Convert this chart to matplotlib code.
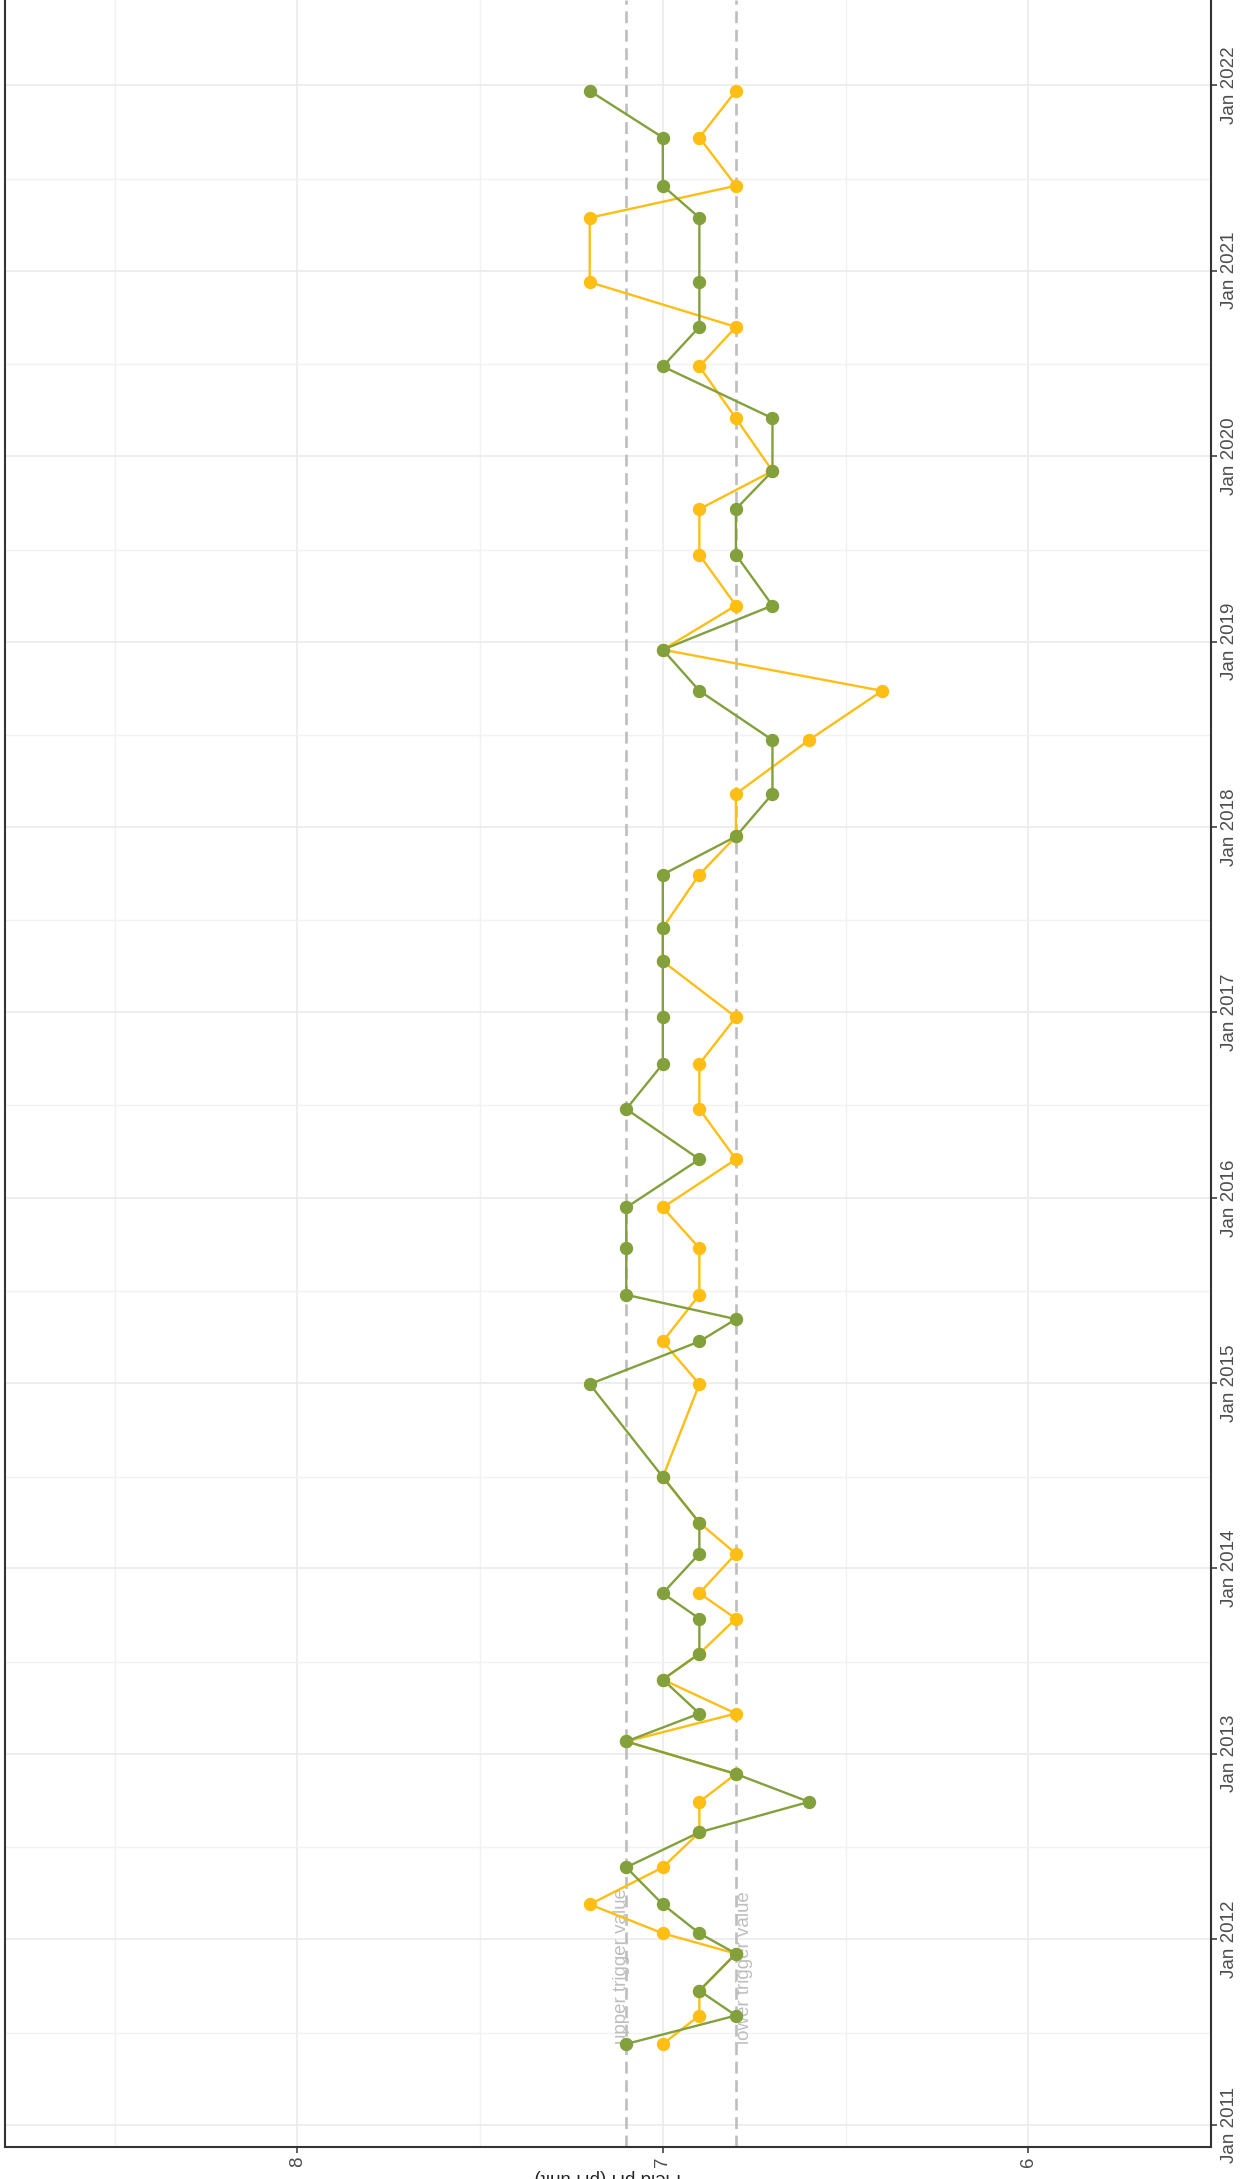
import numpy as np
import matplotlib
matplotlib.use("Agg")
import matplotlib.pyplot as plt
import matplotlib.dates as mdates
import pandas as pd

plt.rcParams['font.family'] = ['Liberation Sans', 'DejaVu Sans']

# sampling dates and field pH readings for the two monitoring sites
dates_site1 = pd.to_datetime([
    "2011-06-09", "2011-08-04", "2011-09-22", "2011-12-04", "2012-01-13", "2012-03-10",
    "2012-05-22", "2012-07-30", "2012-09-28", "2012-11-22", "2013-01-25", "2013-03-21",
    "2013-05-27", "2013-07-17", "2013-09-24", "2013-11-13", "2014-01-30", "2014-04-01",
    "2014-06-30", "2014-12-30", "2015-03-24", "2015-05-07", "2015-06-24", "2015-09-24",
    "2015-12-13", "2016-03-17", "2016-06-24", "2016-09-21", "2016-12-22", "2017-04-11",
    "2017-06-16", "2017-09-29", "2017-12-13", "2018-03-07", "2018-06-21", "2018-09-26",
    "2018-12-16", "2019-03-13", "2019-06-21", "2019-09-19", "2019-12-03", "2020-03-16",
    "2020-06-26", "2020-09-12", "2020-12-09", "2021-04-15", "2021-06-17", "2021-09-20",
    "2021-12-21"])
ph_site1 = [7.1, 6.8, 6.9, 6.8, 6.9, 7.0, 7.1, 6.9, 6.6, 6.8, 7.1, 6.9,
            7.0, 6.9, 6.9, 7.0, 6.9, 6.9, 7.0, 7.2, 6.9, 6.8, 7.1, 7.1,
            7.1, 6.9, 7.1, 7.0, 7.0, 7.0, 7.0, 7.0, 6.8, 6.7, 6.7, 6.9,
            7.0, 6.7, 6.8, 6.8, 6.7, 6.7, 7.0, 6.9, 6.9, 6.9, 7.0, 7.0,
            7.2]

# site 2 was not sampled in May 2015
dates_site2 = dates_site1.drop(pd.Timestamp("2015-05-07"))
ph_site2 = [7.0, 6.9, 6.9, 6.8, 7.0, 7.2, 7.0, 6.9, 6.9, 6.8, 7.1, 6.8,
            7.0, 6.9, 6.8, 6.9, 6.8, 6.9, 7.0, 6.9, 7.0, 6.9, 6.9,
            7.0, 6.8, 6.9, 6.9, 6.8, 7.0, 7.0, 6.9, 6.8, 6.8, 6.6, 6.4,
            7.0, 6.8, 6.9, 6.9, 6.7, 6.8, 6.9, 6.8, 7.2, 7.2, 6.8, 6.9,
            6.8]

upper_trigger = 7.1
lower_trigger = 6.8

green = '#82A03C'
yellow = '#FFBE14'
trig_col = '#BEBEBE'
fs = 13.5

fig = plt.figure(figsize=(12.4, 21.79), dpi=100)
W, H = 1240, 2179
ax = fig.add_axes([5 / W, 32 / H, 1206 / W, 1 - 32 / H])

# chart is laid out sideways: pH runs right-to-left, time runs upwards
ax.set_xlim(8.8, 5.5)
ax.set_ylim(pd.Timestamp("2010-11-18"), pd.Timestamp("2022-06-18"))

ax.set_xticks([6, 7, 8])
ax.set_xticks([5.5, 6.5, 7.5, 8.5], minor=True)
ax.yaxis.set_major_locator(mdates.YearLocator(month=1, day=1))
ax.yaxis.set_minor_locator(mdates.MonthLocator(bymonth=7))
ax.yaxis.set_major_formatter(mdates.DateFormatter('%b %Y'))
ax.yaxis.tick_right()

ax.grid(which='major', color='#EBEBEB', lw=1.2, zorder=0)
ax.grid(which='minor', color='#F2F2F2', lw=1.0, zorder=0)
ax.set_axisbelow(True)

for s in ['left', 'right', 'bottom']:
    ax.spines[s].set_color('#333333')
    ax.spines[s].set_linewidth(1.5)
ax.spines['top'].set_visible(False)

ax.tick_params(axis='both', which='major', length=4, width=1.1, color='#333333',
               labelsize=fs, labelcolor='#4D4D4D', pad=3)
ax.tick_params(axis='both', which='minor', length=0)
ax.tick_params(axis='x', labelrotation=90)
ax.tick_params(axis='y', labelrotation=90, left=False, right=True)
for lab in ax.get_yticklabels():
    lab.set_va('center')

# trigger values
for v in (upper_trigger, lower_trigger):
    ax.axvline(v, color=trig_col, lw=1.9, dashes=(4.5, 2.5), zorder=1)

x0 = mdates.date2num(dates_site1[0])
ax.text(upper_trigger, x0, "upper trigger value", rotation=90, rotation_mode='anchor',
        ha='left', va='baseline', color=trig_col, fontsize=fs, zorder=1.5)
ax.text(lower_trigger, x0, "lower trigger value", rotation=90, rotation_mode='anchor',
        ha='left', va='top', color=trig_col, fontsize=fs, zorder=1.5)

ax.plot(ph_site2, dates_site2, '-o', color=yellow, lw=1.7, ms=8.6, zorder=3)
ax.plot(ph_site1, dates_site1, '-o', color=green, lw=1.7, ms=8.6, zorder=4)

ax.set_xlabel("Field pH (pH unit)", rotation=180, fontsize=fs, labelpad=1, color='#222222')

fig.savefig('out.png', dpi=100)
